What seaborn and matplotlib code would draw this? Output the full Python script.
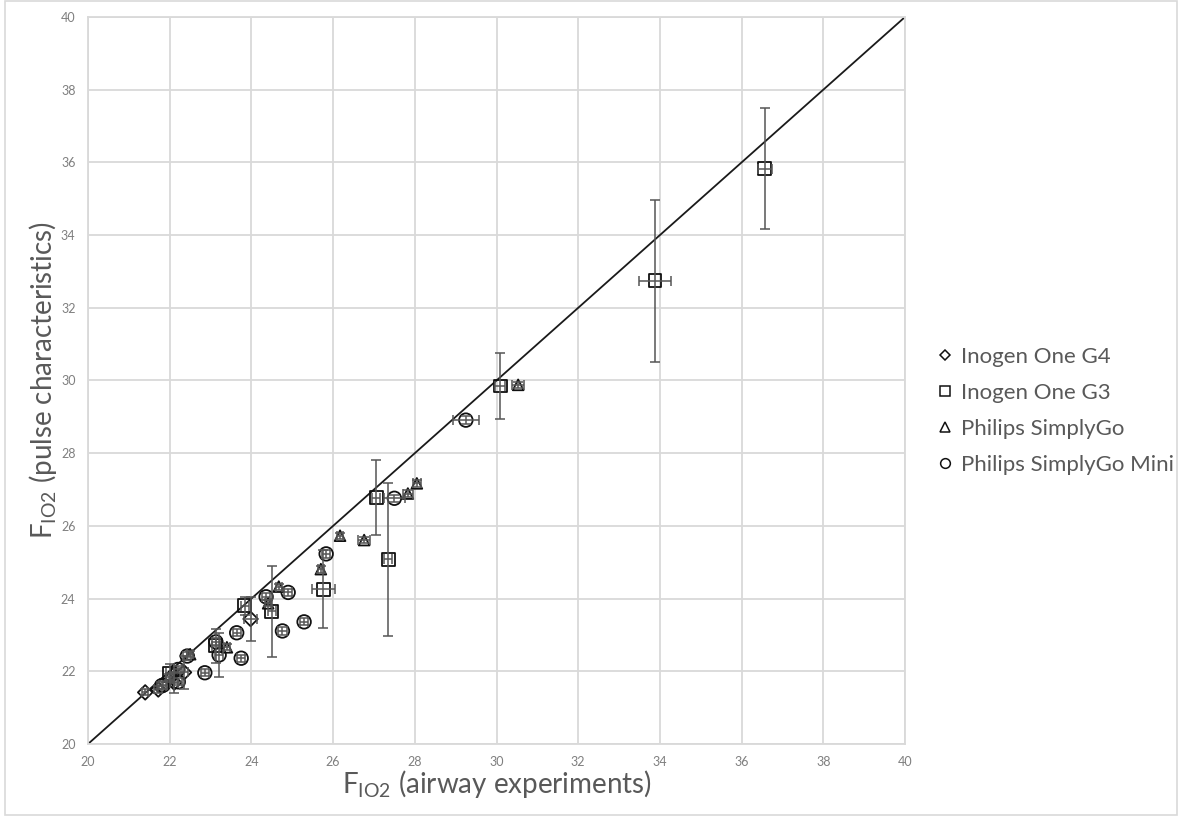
import matplotlib
matplotlib.use("Agg")
import matplotlib.pyplot as plt
from matplotlib.lines import Line2D
from matplotlib.patches import Rectangle
import numpy as np
import pandas as pd
import seaborn as sns

# FIO2 measured in the airway (x) vs. FIO2 derived from pulse characteristics (y)
g4_x = [21.40, 21.72, 22.11, 22.35, 23.98]
g4_y = [21.42, 21.50, 21.69, 21.97, 23.44]
g4_xerr = [0.08, 0.10, 0.10, 0.10, 0.16]
g4_yerr = [0.08, 0.10, 0.30, 0.45, 0.60]

g3_x = [22.00, 23.13, 23.84, 24.50, 25.76, 27.06, 27.35, 30.09, 33.88, 36.57]
g3_y = [21.95, 22.70, 23.80, 23.65, 24.26, 26.78, 25.08, 29.85, 32.74, 35.83]
g3_xerr = [0.10, 0.10, 0.10, 0.10, 0.28, 0.10, 0.10, 0.12, 0.40, 0.18]
g3_yerr = [0.25, 0.47, 0.25, 1.25, 1.07, 1.03, 2.10, 0.90, 2.23, 1.67]

sg_x = [21.98, 22.50, 23.40, 24.41, 24.67, 25.70, 26.17, 26.76, 27.83, 28.05, 30.53]
sg_y = [21.85, 22.47, 22.66, 23.87, 24.33, 24.81, 25.73, 25.61, 26.89, 27.17, 29.88]
sg_xerr = [0.08, 0.08, 0.08, 0.08, 0.08, 0.08, 0.08, 0.14, 0.12, 0.10, 0.15]
sg_yerr = [0.08, 0.08, 0.08, 0.08, 0.08, 0.10, 0.08, 0.08, 0.10, 0.10, 0.08]

mini_x = [21.80, 21.84, 22.20, 22.21, 22.43, 22.86, 23.13, 23.21, 23.64, 23.75,
          24.36, 24.76, 24.90, 25.29, 25.83, 27.50, 29.25]
mini_y = [21.60, 21.62, 22.05, 21.71, 22.42, 21.96, 22.81, 22.45, 23.06, 22.36,
          24.05, 23.11, 24.17, 23.36, 25.23, 26.76, 28.91]
mini_xerr = [0.10, 0.10, 0.10, 0.10, 0.10, 0.10, 0.10, 0.10, 0.10, 0.10,
             0.10, 0.10, 0.10, 0.10, 0.10, 0.25, 0.31]
mini_yerr = [0.10, 0.10, 0.10, 0.10, 0.10, 0.10, 0.10, 0.60, 0.10, 0.10,
             0.10, 0.10, 0.10, 0.10, 0.10, 0.10, 0.10]

devices = ["Inogen One G4", "Inogen One G3", "Philips SimplyGo", "Philips SimplyGo Mini"]
ticks = list(range(20, 41, 2))

series = {
    "Inogen One G4": (g4_x, g4_y, g4_xerr, g4_yerr),
    "Inogen One G3": (g3_x, g3_y, g3_xerr, g3_yerr),
    "Philips SimplyGo": (sg_x, sg_y, sg_xerr, sg_yerr),
    "Philips SimplyGo Mini": (mini_x, mini_y, mini_xerr, mini_yerr),
}
frames = []
for name in devices:
    x, y, xe, ye = series[name]
    frames.append(pd.DataFrame({"device": name, "x": x, "y": y, "xerr": xe, "yerr": ye}))
df = pd.concat(frames, ignore_index=True)

marker_map = {"Inogen One G4": "D", "Inogen One G3": "s",
              "Philips SimplyGo": "^", "Philips SimplyGo Mini": "o"}
size_map = {"Inogen One G4": 55, "Inogen One G3": 85,
            "Philips SimplyGo": 60, "Philips SimplyGo Mini": 95}

sns.set_theme(style="white")
plt.rcParams["font.family"] = ["Lato", "DejaVu Sans"]
plt.rcParams["mathtext.fontset"] = "custom"
plt.rcParams["mathtext.rm"] = "Lato"

fig = plt.figure(figsize=(11.8, 8.23), dpi=100)
ax = fig.add_axes([88 / 1180, 79 / 823, 817 / 1180, 727 / 823])

grid_c = "#d9d9d9"
text_c = "#595959"

# identity line
ax.plot([20, 40], [20, 40], color="#1a1a1a", lw=1.3, zorder=2)

for name in devices:
    sub = df[df["device"] == name]
    sns.scatterplot(data=sub, x="x", y="y", marker=marker_map[name], s=size_map[name],
                    facecolor="none", edgecolor="#111111", linewidth=1.3,
                    ax=ax, legend=False, zorder=3)
    ax.errorbar(sub["x"], sub["y"], xerr=sub["xerr"], yerr=sub["yerr"], fmt="none",
                ecolor="#555555", elinewidth=1.1, capsize=3.5, capthick=1.1, zorder=4)

ax.set_xlim(20, 40)
ax.set_ylim(20, 40)
ax.set_xticks(ticks)
ax.set_yticks(ticks)
ax.set_xticklabels([str(t) for t in ticks])
ax.set_yticklabels([str(t) for t in ticks])
ax.grid(True, color=grid_c, lw=1.3, zorder=0)
ax.set_axisbelow(True)
for sp in ax.spines.values():
    sp.set_color(grid_c)
    sp.set_linewidth(1.3)
ax.tick_params(axis="both", length=0, labelsize=9, labelcolor="#7f7f7f")
ax.tick_params(axis="x", pad=9)
ax.tick_params(axis="y", pad=9)

ax.set_xlabel(r"F$_{\mathregular{IO2}}$ (airway experiments)", fontsize=20,
              color=text_c, labelpad=0)
ax.set_ylabel(r"F$_{\mathregular{IO2}}$ (pulse characteristics)", fontsize=20,
              color=text_c, labelpad=1)

handles = [Line2D([], [], linestyle="none", marker=marker_map[n],
                  markersize={"D": 5, "s": 7, "^": 7, "o": 7}[marker_map[n]],
                  markerfacecolor="none", markeredgecolor="#111111", markeredgewidth=1.1)
           for n in devices]
fig.legend(handles, devices, loc="center left", bbox_to_anchor=(927 / 1180, 412 / 823),
           frameon=False, fontsize=16, labelcolor=text_c, handlelength=0.8,
           handletextpad=0.35, labelspacing=0.72, borderaxespad=0)

fig.patches.append(Rectangle((5 / 1180, 8 / 823), 1172 / 1180, 814 / 823,
                             transform=fig.transFigure, fill=False,
                             edgecolor=grid_c, lw=1.2))

fig.savefig("out.png", dpi=100)
